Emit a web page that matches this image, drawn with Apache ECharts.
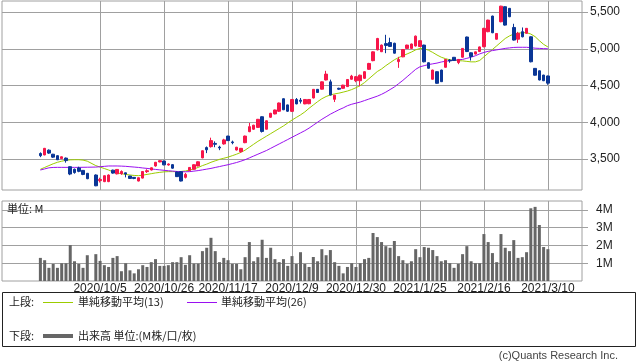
<!DOCTYPE html>
<html><head><meta charset="utf-8">
<script src="https://cdn.jsdelivr.net/npm/echarts@6/dist/echarts.min.js"></script>
<style>html,body{margin:0;padding:0;background:#fff}#c{width:638px;height:362px}</style>
</head><body><div id="c"></div><script>
const dates = ['2020/9/11','2020/9/14','2020/9/15','2020/9/16','2020/9/17','2020/9/18','2020/9/23','2020/9/24','2020/9/25','2020/9/28',
'2020/9/29','2020/9/30','2020/10/1','2020/10/2','2020/10/5','2020/10/6','2020/10/7','2020/10/8','2020/10/9','2020/10/12',
'2020/10/13','2020/10/14','2020/10/15','2020/10/16','2020/10/19','2020/10/20','2020/10/21','2020/10/22','2020/10/23','2020/10/26',
'2020/10/27','2020/10/28','2020/10/29','2020/10/30','2020/11/2','2020/11/4','2020/11/5','2020/11/6','2020/11/9','2020/11/10',
'2020/11/11','2020/11/12','2020/11/13','2020/11/16','2020/11/17','2020/11/18','2020/11/19','2020/11/20','2020/11/24','2020/11/25',
'2020/11/26','2020/11/27','2020/11/30','2020/12/1','2020/12/2','2020/12/3','2020/12/4','2020/12/7','2020/12/8','2020/12/9',
'2020/12/10','2020/12/11','2020/12/14','2020/12/15','2020/12/16','2020/12/17','2020/12/18','2020/12/21','2020/12/22','2020/12/23',
'2020/12/24','2020/12/25','2020/12/28','2020/12/29','2020/12/30','2021/1/4','2021/1/5','2021/1/6','2021/1/7','2021/1/8',
'2021/1/12','2021/1/13','2021/1/14','2021/1/15','2021/1/18','2021/1/19','2021/1/20','2021/1/21','2021/1/22','2021/1/25',
'2021/1/26','2021/1/27','2021/1/28','2021/1/29','2021/2/1','2021/2/2','2021/2/3','2021/2/4','2021/2/5','2021/2/8',
'2021/2/9','2021/2/10','2021/2/12','2021/2/15','2021/2/16','2021/2/17','2021/2/18','2021/2/19','2021/2/22','2021/2/24',
'2021/2/25','2021/2/26','2021/3/1','2021/3/2','2021/3/3','2021/3/4','2021/3/5','2021/3/8','2021/3/9','2021/3/10'];

const openP = [3575,3555,3620,3565,3545,3505,3512,3395,3360,3378,
3345,3305,null,3282,3205,3192,3192,3348,3298,3300,
3312,3268,3250,3200,3240,3328,3350,3405,3460,3472,
3418,3423,3322,3327,3250,3342,3360,3405,3515,3655,
3668,3712,3662,3705,3812,3732,3622,3600,3722,3872,
3905,3930,4075,3905,4068,4113,4150,4320,4236,4148,
4310,4300,4250,4252,4330,4448,4450,4575,4550,4312,
4462,4462,4485,4585,4565,4565,4598,4720,4838,4985,
4960,5070,5085,5075,4825,4890,5005,5005,5038,5030,
5050,4810,4585,4688,4710,4748,4845,4884,4812,4885,
5160,4945,4928,4962,5028,5232,5445,5130,5368,5572,
5550,5290,5130,5232,5210,5163,4733,4700,4642,4630];
const closeP = [3545,3645,3580,3525,3490,3530,3478,3295,3315,3332,
3290,3232,null,3135,3222,3272,3282,3308,3358,3330,
3295,3235,3235,3245,3330,3340,3380,3455,3477,3420,
3432,3375,3260,3200,3290,3385,3422,3462,3612,3625,
3750,3700,3650,3760,3750,3722,3660,3645,3812,3940,
3960,4040,3875,4020,4122,4167,4262,4170,4150,4310,
4250,4285,4310,4310,4448,4405,4550,4655,4370,4368,
4450,4505,4582,4628,4620,4640,4688,4800,4958,5140,
5050,5045,5032,4940,4855,4990,5050,5065,5172,5110,
4823,4735,4710,4530,4552,4855,4835,4840,4855,5005,
4962,4895,4958,5025,5278,5390,5218,5208,5580,5322,
5436,5118,5210,5163,5278,4823,4640,4575,4565,4532];
const lowP = [3525,3550,3570,3515,3485,3500,3450,3280,3300,3320,
3280,3225,null,3130,3180,3185,3185,3300,3290,3285,
3250,3228,3225,3195,3235,3310,3345,3395,3455,3415,
3410,3368,3255,3195,3235,3335,3355,3400,3510,3580,
3655,3660,3620,3695,3745,3700,3615,3585,3715,3865,
3895,3925,3860,3900,4060,4108,4140,4165,4140,4140,
4245,4255,4245,4245,4325,4400,4445,4570,4365,4275,
4440,4455,4480,4580,4545,4490,4590,4712,4830,4978,
4955,4940,5025,4935,4740,4885,5000,5000,5030,5025,
4815,4730,4580,4525,4548,4745,4810,4835,4790,4880,
4955,4840,4922,4955,5020,5225,5212,5125,5360,5315,
5430,5112,5080,5155,5205,4815,4635,4570,4560,4510];
const highP = [3590,3650,3630,3570,3550,3535,3520,3400,3370,3395,
3350,3310,null,3290,3245,3275,3290,3355,3362,3345,
3315,3270,3255,3250,3335,3360,3385,3460,3482,3478,
3440,3430,3330,3335,3310,3390,3428,3468,3618,3670,
3790,3740,3680,3775,3815,3750,3665,3650,3818,3990,
3965,4045,4080,4025,4128,4172,4268,4325,4240,4315,
4330,4330,4315,4315,4452,4452,4555,4700,4580,4372,
4470,4510,4588,4645,4630,4648,4695,4808,4965,5148,
5058,5190,5150,5082,4890,4995,5055,5070,5180,5115,
5055,4815,4715,4692,4715,4860,4860,4888,4860,5010,
5165,4950,4962,5030,5285,5395,5450,5212,5585,5578,
5555,5340,5230,5290,5282,5168,4738,4705,4645,4635];
const volumeM = [1.30,1.17,0.74,0.96,0.74,1.00,1.00,2.02,1.11,0.96,
0.74,1.45,null,1.51,1.13,0.89,0.79,1.30,1.40,0.55,
1.00,0.60,0.43,0.66,0.89,0.79,1.06,1.23,0.85,0.85,
0.89,1.06,1.06,1.34,0.91,1.45,0.98,0.98,1.68,1.87,
2.43,1.68,1.06,1.30,1.17,0.96,0.96,0.66,1.34,2.19,
1.11,1.34,2.32,1.30,1.87,1.23,1.06,1.23,0.85,1.40,
0.96,1.62,0.96,0.79,1.35,1.11,1.79,1.45,1.74,1.06,
0.85,0.43,0.79,1.00,0.79,1.00,1.23,1.30,2.70,2.47,
2.19,1.96,1.87,2.25,1.40,1.17,0.96,1.11,1.79,1.34,
1.91,1.87,1.74,1.40,1.11,1.17,1.00,0.74,0.96,1.51,
1.96,1.11,1.00,1.00,2.64,2.19,1.57,1.06,2.64,1.87,
1.68,2.30,1.30,1.34,1.62,4.09,4.17,3.15,1.91,1.79];
const sma13 = [3360,3385,3410,3435,3455,3470,3482,3488,3490,3490,
3485,3470,null,3410,3390,3370,3350,3325,3310,3300,
3290,3282,3276,3273,3280,3290,3300,3310,3318,3325,
3328,3328,3328,3330,3337,3350,3365,3385,3410,3430,
3455,3475,3495,3510,3525,3545,3565,3590,3620,3660,
3700,3740,3775,3810,3845,3880,3915,3950,3990,4030,
4065,4100,4140,4190,4235,4280,4320,4350,4372,4386,
4396,4410,4425,4445,4470,4500,4540,4590,4640,4690,
4725,4770,4810,4850,4880,4905,4930,4955,4985,5005,
5000,4980,4950,4915,4885,4865,4850,4842,4838,4835,
4828,4822,4822,4840,4890,4940,4990,5040,5090,5140,
5175,5200,5212,5218,5220,5200,5165,5110,5060,5025];
const sma26 = [3350,3365,3380,3385,3386,3386,3386,3386,3386,3386,
3387,3388,null,3390,3395,3400,3405,3405,3405,3403,
3400,3395,3390,3385,3378,3372,3365,3358,3352,3346,
3340,3335,3330,3327,3326,3328,3335,3342,3352,3362,
3372,3385,3397,3410,3422,3437,3452,3470,3490,3515,
3540,3565,3590,3615,3645,3675,3705,3735,3765,3795,
3825,3855,3885,3920,3960,4000,4040,4075,4110,4140,
4170,4195,4225,4245,4260,4275,4295,4315,4335,4355,
4380,4410,4445,4480,4525,4570,4620,4670,4720,4755,
4770,4785,4795,4805,4820,4830,4838,4845,4850,4855,
4870,4885,4905,4930,4950,4965,4975,4985,4995,5005,
5012,5018,5020,5020,5020,5015,5008,5005,5002,5000];
const dateLabels = ['2020/10/5','2020/10/26','2020/11/17','2020/12/9','2020/12/30','2021/1/25','2021/2/16','2021/3/10'];
const priceTicks = [3500,4000,4500,5000,5500];
const volumeTicks = [1,2,3,4];

const PAD_L = 9, PAD_R = 8;
const cats = [];
for (let k = 0; k < PAD_L; k++) cats.push('padL' + k);
dates.forEach(d => cats.push(d));
for (let k = 0; k < PAD_R; k++) cats.push('padR' + k);
const labelIdx = new Set(dateLabels.map(d => dates.indexOf(d) + PAD_L));

const candle = [], vol = [], ma13 = [], ma26 = [];
dates.forEach((d, i) => {
  const x = i + PAD_L;
  if (openP[i] != null) candle.push([x, openP[i], closeP[i], lowP[i], highP[i]]);
  if (volumeM[i] != null) vol.push([x, volumeM[i]]);
  if (sma13[i] != null) ma13.push([x, sma13[i]]);
  if (sma26[i] != null) ma26.push([x, sma26[i]]);
});

const UP = '#f7164a', DOWN = '#0a3696', GRID = '#a0a0a0';
const NUMF = '"Liberation Sans", Arial, sans-serif';
const JPF = '"Noto Sans CJK JP", sans-serif';
const showIdx = (idx) => labelIdx.has(idx);

const chart = echarts.init(document.getElementById('c'), null, {renderer: 'canvas'});
chart.setOption({
  animation: false,
  backgroundColor: '#fff',
  grid: [
    {left: 2, top: 1, width: 580, height: 189, show: true, borderColor: GRID, borderWidth: 1, containLabel: false},
    {left: 2, top: 201, width: 580, height: 80, show: true, borderColor: GRID, borderWidth: 1, containLabel: false}
  ],
  xAxis: [
    {type: 'category', gridIndex: 0, data: cats, boundaryGap: false,
     axisLine: {show: false}, axisTick: {show: false}, axisLabel: {show: false},
     splitLine: {show: true, interval: showIdx, lineStyle: {color: GRID, width: 1}}},
    {type: 'category', gridIndex: 1, data: cats, boundaryGap: false,
     axisLine: {show: false}, axisTick: {show: false},
     axisLabel: {show: true, interval: showIdx, color: '#222', fontSize: 12, fontFamily: NUMF, margin: 2},
     splitLine: {show: true, interval: showIdx, lineStyle: {color: GRID, width: 1}}}
  ],
  yAxis: [
    {type: 'value', gridIndex: 0, position: 'right', min: 3078, max: 5650, splitNumber: 5,
     axisLine: {show: false},
     axisTick: {show: true, length: 6, customValues: priceTicks, lineStyle: {color: GRID}},
     axisLabel: {show: true, customValues: priceTicks, margin: 8, color: '#222', fontSize: 12, fontFamily: NUMF,
       formatter: v => priceTicks.indexOf(v) >= 0 ? v.toLocaleString('en-US') : ''},
     splitLine: {show: true, lineStyle: {color: GRID, width: 1}}},
    {type: 'value', gridIndex: 1, position: 'right', min: 0, max: 4.5, splitNumber: 5,
     axisLine: {show: false},
     axisTick: {show: true, length: 6, customValues: volumeTicks, lineStyle: {color: GRID}},
     axisLabel: {show: true, customValues: volumeTicks, margin: 14, color: '#222', fontSize: 12, fontFamily: NUMF,
       formatter: v => volumeTicks.indexOf(v) >= 0 ? v + 'M' : ''},
     splitLine: {show: true, lineStyle: {color: GRID, width: 1}}}
  ],
  series: [
    {type: 'line', xAxisIndex: 0, yAxisIndex: 0, data: ma13, showSymbol: false, symbol: 'none',
     lineStyle: {color: '#9ccc00', width: 1}, z: 2},
    {type: 'line', xAxisIndex: 0, yAxisIndex: 0, data: ma26, showSymbol: false, symbol: 'none',
     lineStyle: {color: '#9a10f0', width: 1}, z: 2},
    {type: 'candlestick', xAxisIndex: 0, yAxisIndex: 0, data: candle, encode: {x: 0, y: [1, 2, 3, 4]},
     barWidth: 3, z: 3,
     itemStyle: {color: UP, color0: DOWN, borderColor: UP, borderColor0: DOWN, borderWidth: 1}},
    {type: 'bar', xAxisIndex: 1, yAxisIndex: 1, data: vol, encode: {x: 0, y: 1}, barWidth: 3,
     itemStyle: {color: '#666666'}}
  ],
  graphic: [
    {type: 'text', left: 7, top: 203, style: {text: '単位: M', font: '11px ' + JPF, fill: '#222'}, z: 10},
    {type: 'rect', shape: {x: 2.5, y: 292.5, width: 633, height: 54}, style: {fill: 'none', stroke: '#222', lineWidth: 1}},
    {type: 'text', x: 9, y: 302, style: {text: '上段:', font: '11px ' + JPF, fill: '#222', verticalAlign: 'middle'}},
    {type: 'line', shape: {x1: 43, y1: 302.5, x2: 73, y2: 302.5}, style: {stroke: '#9ccc00', lineWidth: 1}},
    {type: 'text', x: 78, y: 302, style: {text: '単純移動平均(13)', font: '11px ' + JPF, fill: '#222', verticalAlign: 'middle'}},
    {type: 'line', shape: {x1: 187, y1: 302.5, x2: 217, y2: 302.5}, style: {stroke: '#9a10f0', lineWidth: 1}},
    {type: 'text', x: 221, y: 302, style: {text: '単純移動平均(26)', font: '11px ' + JPF, fill: '#222', verticalAlign: 'middle'}},
    {type: 'text', x: 9, y: 336, style: {text: '下段:', font: '11px ' + JPF, fill: '#222', verticalAlign: 'middle'}},
    {type: 'line', shape: {x1: 43, y1: 336, x2: 73, y2: 336}, style: {stroke: '#666666', lineWidth: 4}},
    {type: 'text', x: 78, y: 336, style: {text: '出来高 単位:(M株/口/枚)', font: '11px ' + JPF, fill: '#222', verticalAlign: 'middle'}},
    {type: 'text', x: 618, y: 356, style: {text: '(c)Quants Research Inc.', font: '11px ' + NUMF, fill: '#444', align: 'right', verticalAlign: 'middle'}}
  ]
});
</script></body></html>
